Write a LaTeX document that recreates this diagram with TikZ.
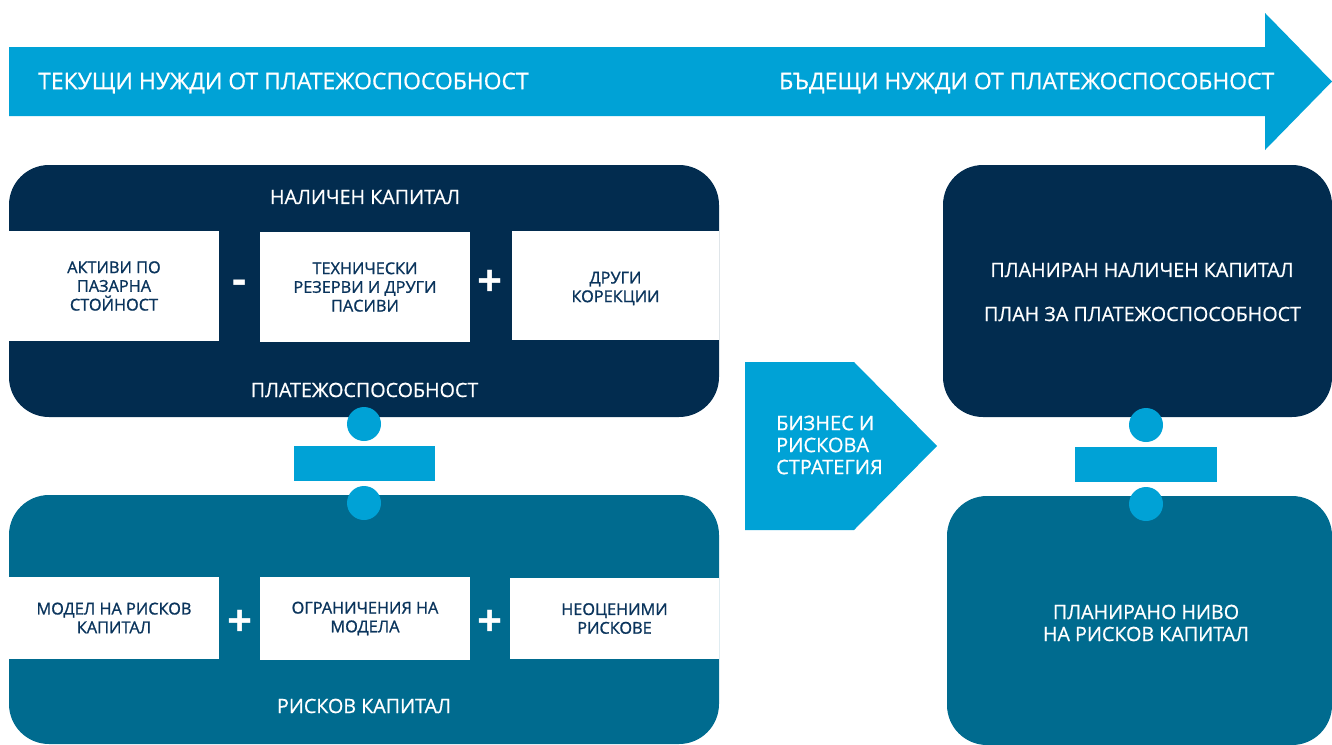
\documentclass[tikz,border=0pt]{standalone}
\usepackage{fontspec}
\setmainfont{Open Sans}
\newfontfamily\medfont{Open Sans}[FakeBold=0.7]
\newfontfamily\boxfont{Open Sans}[FakeBold=1.1]
\definecolor{navy}{RGB}{2,44,79}
\definecolor{teal}{RGB}{0,107,143}
\definecolor{bright}{RGB}{0,162,214}
\definecolor{boxtext}{RGB}{10,52,92}
\tikzset{
  block/.style={fill=#1, rounded corners=40pt, inner sep=0pt, outer sep=0pt, anchor=north west},
  whitebox/.style={fill=white, inner sep=0pt, outer sep=0pt, anchor=north west},
  boxlabel/.style={text=boxtext, align=center, inner sep=0pt, font=\boxfont\fontsize{16.3}{18.7}\selectfont},
  title/.style={text=white, inner sep=0pt, font=\medfont\fontsize{19.7}{22}\selectfont},
  arrowlabel/.style={text=white, inner sep=0pt, font=\medfont\fontsize{22.9}{28}\selectfont},
  opsign/.style={text=white, inner sep=0pt, font=\bfseries\fontsize{44}{44}\selectfont},
  dot/.style={circle, fill=bright, minimum size=34pt, inner sep=0pt, outer sep=0pt},
  bar/.style={fill=bright, inner sep=0pt, outer sep=0pt, anchor=north west},
}
\begin{document}
\begin{tikzpicture}[x=1pt,y=-1pt]
\useasboundingbox (0,0) rectangle (1332,744);
% top arrow
\fill[bright] (9,47) -- (1265,47) -- (1265,13) -- (1332,81.5) -- (1265,150) -- (1265,116) -- (9,116) -- cycle;
\node[arrowlabel, anchor=west] (cur) at (38,83) {ТЕКУЩИ НУЖДИ ОТ ПЛАТЕЖОСПОСОБНОСТ};
\node[arrowlabel, anchor=west] (fut) at (779,83) {БЪДЕЩИ НУЖДИ ОТ ПЛАТЕЖОСПОСОБНОСТ};

% left top block
\node[block=navy, minimum width=710pt, minimum height=252pt] (avail) at (9,165) {};
\node[whitebox, minimum width=210pt, minimum height=110pt] (a1) at (9,231) {};
\node[whitebox, minimum width=210pt, minimum height=110pt] (a2) at (260,232) {};
\node[whitebox, minimum width=207pt, minimum height=109pt] (a3) at (512,231) {};
\node[boxlabel] (t1) at (a1.center) {АКТИВИ ПО\\ПАЗАРНА\\СТОЙНОСТ};
\node[boxlabel] (t2) at (a2.center) {ТЕХНИЧЕСКИ\\РЕЗЕРВИ И ДРУГИ\\ПАСИВИ};
\node[boxlabel] (t3) at ([yshift=-3pt]a3.center) {ДРУГИ\\КОРЕКЦИИ};
\node[opsign] (minus) at (240,287) {-};
\node[opsign] (plus1) at (490,283) {+};
\node[title] (availt) at (365,197) {НАЛИЧЕН КАПИТАЛ};
\node[title] (solv) at (364.5,390) {ПЛАТЕЖОСПОСОБНОСТ};

% left bottom block
\node[block=teal, minimum width=710pt, minimum height=249pt] (risk) at (9,495) {};
\node[whitebox, minimum width=210pt, minimum height=82pt] (b1) at (9,577) {};
\node[whitebox, minimum width=210pt, minimum height=83pt] (b2) at (260,577) {};
\node[whitebox, minimum width=209pt, minimum height=81pt] (b3) at (510,578) {};
\node[boxlabel] (u1) at (b1.center) {МОДЕЛ НА РИСКОВ\\КАПИТАЛ};
\node[boxlabel] (u2) at (b2.center) {ОГРАНИЧЕНИЯ НА\\МОДЕЛА};
\node[boxlabel] (u3) at (b3.center) {НЕОЦЕНИМИ\\РИСКОВЕ};
\node[opsign] (plus2) at (240,623) {+};
\node[opsign] (plus3) at (490,623) {+};
\node[title] (riskt) at (364,706) {РИСКОВ КАПИТАЛ};

% left divider
\node[bar, minimum width=141pt, minimum height=35pt] (lbar) at (294,446) {};
\node[dot] (ldot1) at (364,424) {};
\node[dot] (ldot2) at (364,503) {};

% middle arrow
\fill[bright] (745,362) -- (854,362) -- (937,446) -- (854,530) -- (745,530) -- cycle;
\node[text=white, inner sep=0pt, align=left, anchor=west, font=\medfont\fontsize{20}{22}\selectfont] (strat) at (776,445) {БИЗНЕС И\\РИСКОВА\\СТРАТЕГИЯ};

% right blocks
\node[block=navy, minimum width=389pt, minimum height=252pt] (plan) at (943,165) {};
\node[title] (plan1) at (1142,270) {ПЛАНИРАН НАЛИЧЕН КАПИТАЛ};
\node[title] (plan2) at (1142.5,314) {ПЛАН ЗА ПЛАТЕЖОСПОСОБНОСТ};
\node[block=teal, minimum width=385pt, minimum height=249pt] (prisk) at (947,496) {};
\node[title, align=center] (prisktext) at (1146,623) {ПЛАНИРАНО НИВО\\НА РИСКОВ КАПИТАЛ};

% right divider
\node[bar, minimum width=142pt, minimum height=35pt] (rbar) at (1075,447) {};
\node[dot] (rdot1) at (1146,425) {};
\node[dot] (rdot2) at (1146,504) {};
\end{tikzpicture}
\end{document}
